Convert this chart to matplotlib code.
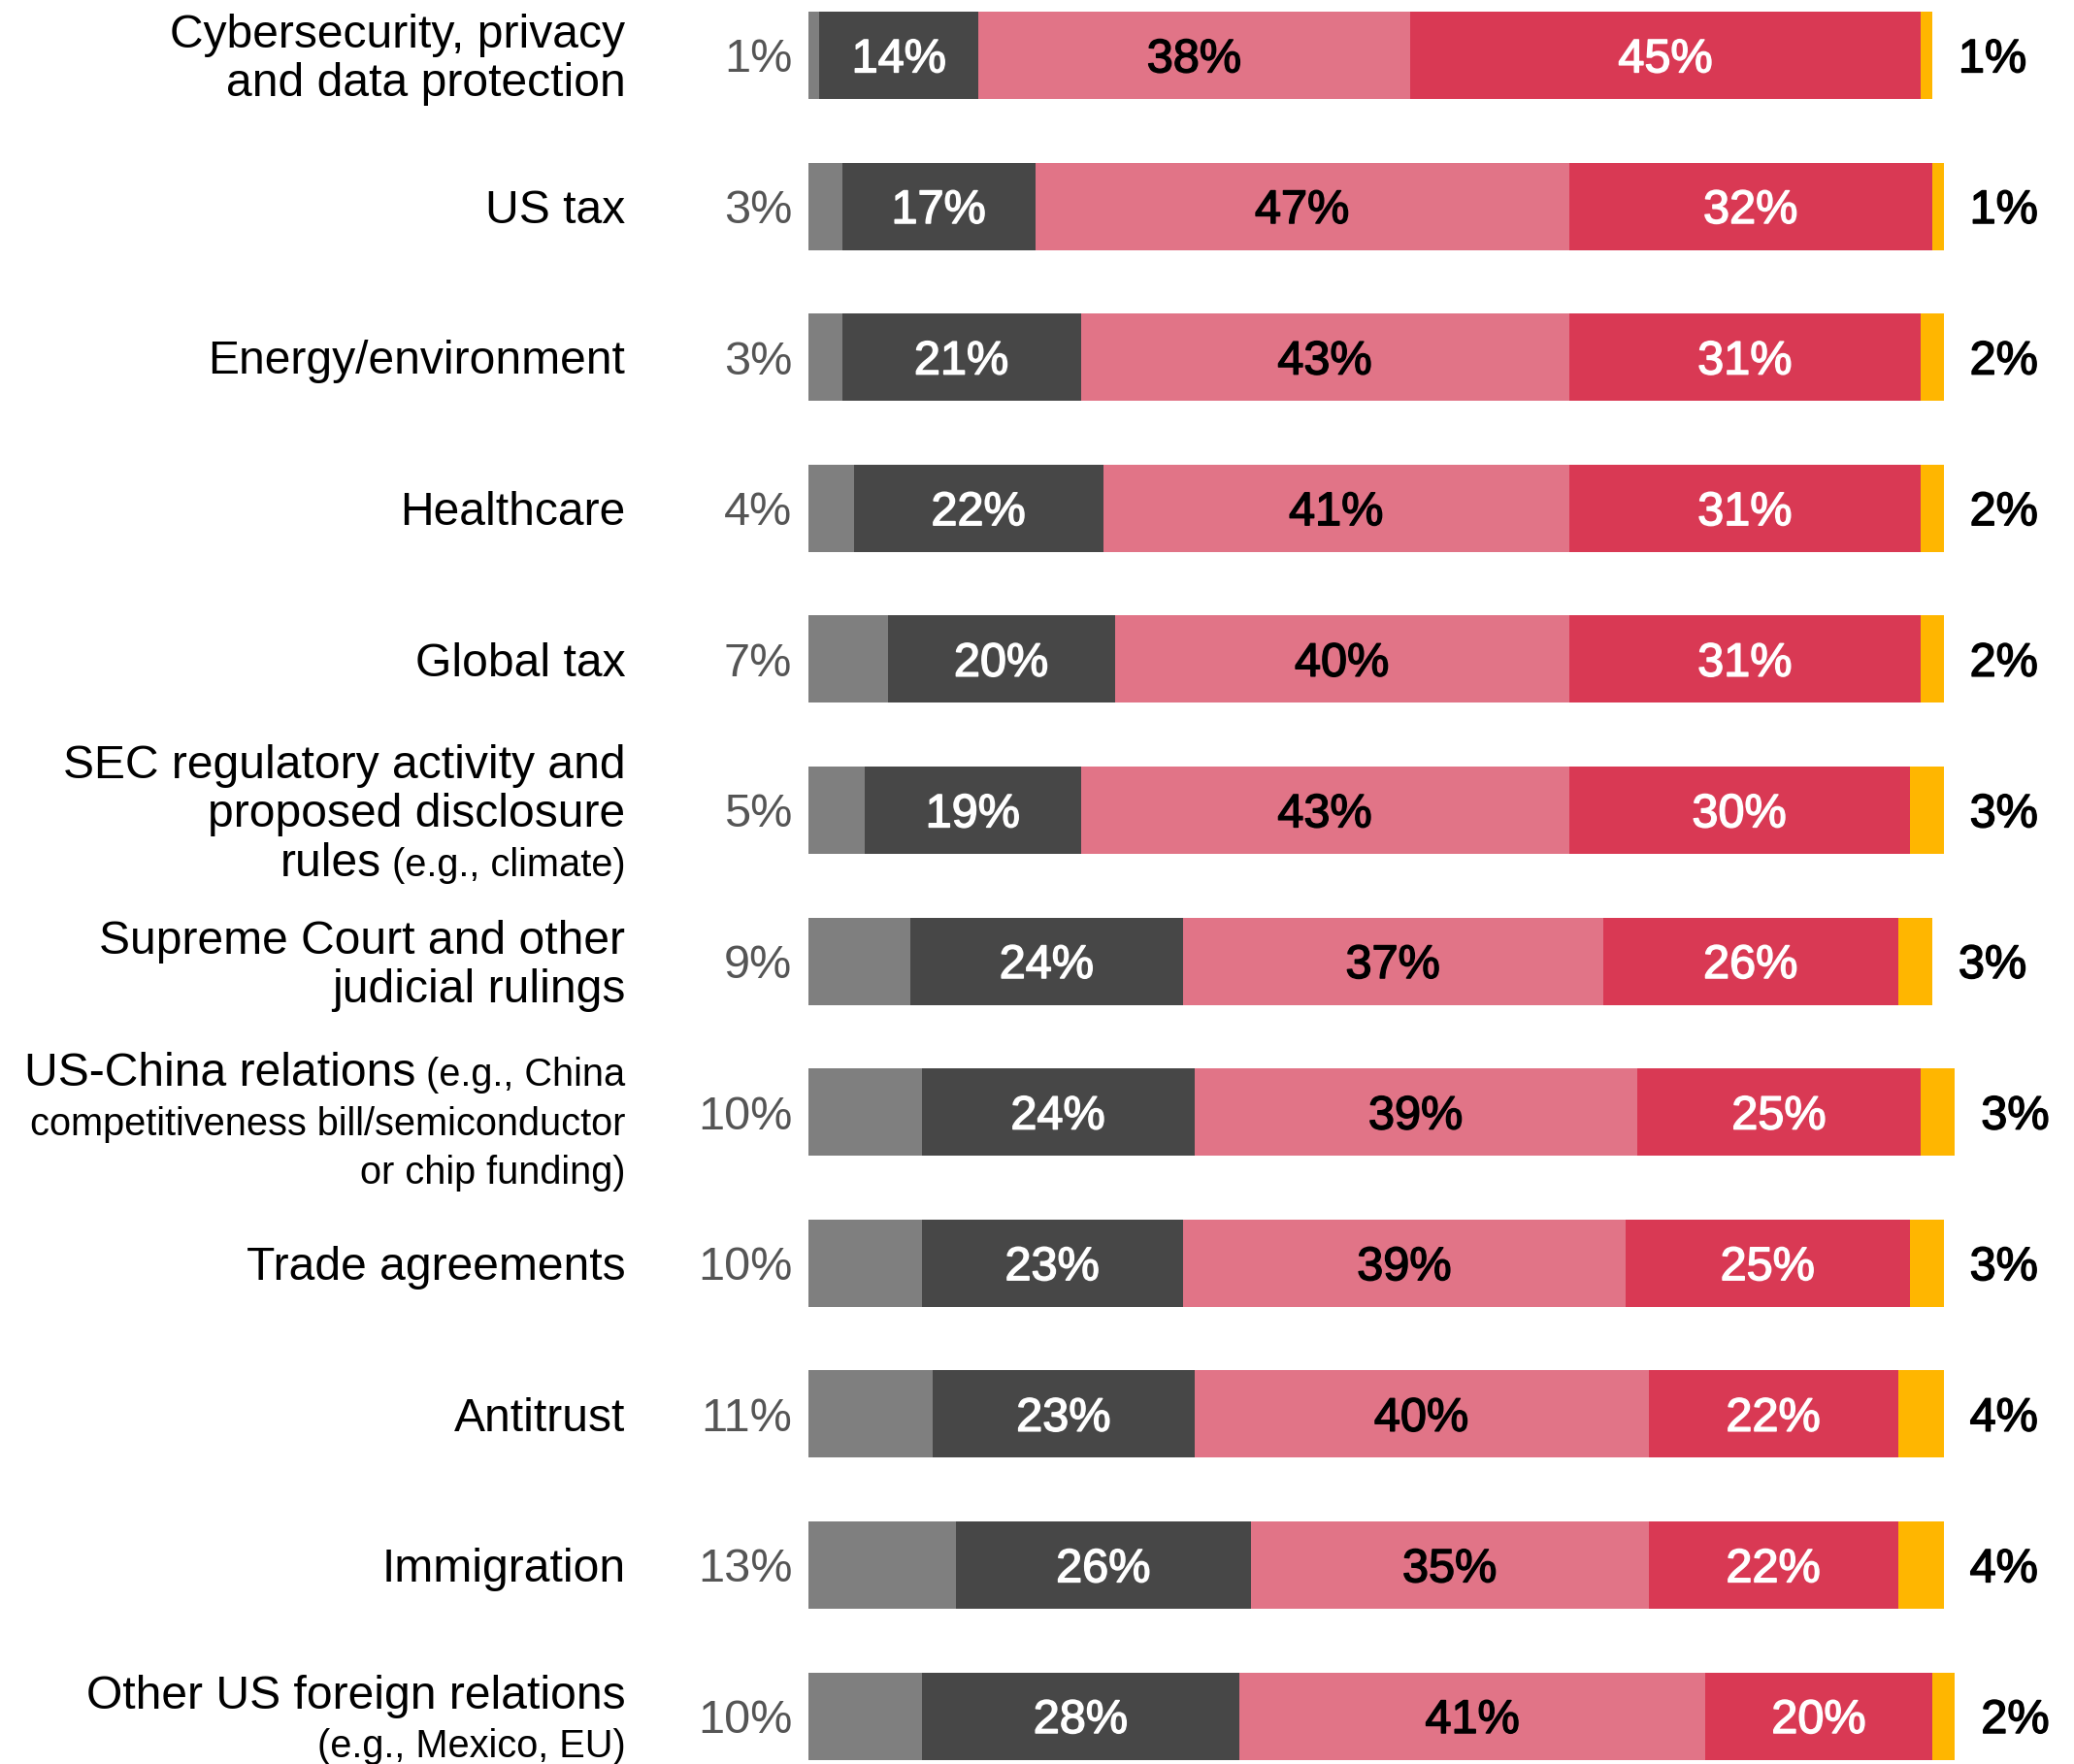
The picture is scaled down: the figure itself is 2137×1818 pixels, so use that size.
import matplotlib
matplotlib.use("Agg")
import matplotlib.pyplot as plt
import matplotlib.patheffects as pe

# ---------------- data ----------------
categories = [
    "Cybersecurity, privacy and data protection",
    "US tax",
    "Energy/environment",
    "Healthcare",
    "Global tax",
    "SEC regulatory activity and proposed disclosure rules (e.g., climate)",
    "Supreme Court and other judicial rulings",
    "US-China relations (e.g., China competitiveness bill/semiconductor or chip funding)",
    "Trade agreements",
    "Antitrust",
    "Immigration",
    "Other US foreign relations (e.g., Mexico, EU)",
]
# label lines: (main text, smaller note text)
label_lines = [
    [("Cybersecurity, privacy", ""), ("and data protection", "")],
    [("US tax", "")],
    [("Energy/environment", "")],
    [("Healthcare", "")],
    [("Global tax", "")],
    [("SEC regulatory activity and", ""), ("proposed disclosure", ""), ("rules", " (e.g., climate)")],
    [("Supreme Court and other", ""), ("judicial rulings", "")],
    [("US-China relations", " (e.g., China"), ("", "competitiveness bill/semiconductor"), ("", "or chip funding)")],
    [("Trade agreements", "")],
    [("Antitrust", "")],
    [("Immigration", "")],
    [("Other US foreign relations", ""), ("", "(e.g., Mexico, EU)")],
]
seg1 = [1, 3, 3, 4, 7, 5, 9, 10, 10, 11, 13, 10]      # light grey
seg2 = [14, 17, 21, 22, 20, 19, 24, 24, 23, 23, 26, 28]  # dark grey
seg3 = [38, 47, 43, 41, 40, 43, 37, 39, 39, 40, 35, 41]  # pink
seg4 = [45, 32, 31, 31, 31, 30, 26, 25, 25, 22, 22, 20]  # red
seg5 = [1, 1, 2, 2, 2, 3, 3, 3, 3, 4, 4, 2]            # yellow

colors = ["#7f7f7f", "#474747", "#e17487", "#d93954", "#ffb600"]
segments = [seg1, seg2, seg3, seg4, seg5]

FONT = "Liberation Sans"
BIG = 34.6
SMALL = 28.6
NUM = 35

W, H = 2137, 1818
fig = plt.figure(figsize=(W / 100, H / 100), dpi=100)
ax = fig.add_axes([0, 0, 1, 1])
ax.axis("off")

px_per_pct = 11.70
x0_px = 832.7
row_px = 155.6
row0_px = 57.0
ax.set_xlim(-x0_px / px_per_pct, (W - x0_px) / px_per_pct)
ax.set_ylim((H - row0_px) / row_px, -row0_px / row_px)

n = len(categories)
ys = list(range(n))
bar_h = 90 / row_px

left = [0.0] * n
for vals, col in zip(segments, colors):
    ax.barh(ys, vals, left=left, height=bar_h, color=col, linewidth=0)
    left = [l + v for l, v in zip(left, vals)]


def base_off(size_pt):
    # offset (data rows) from visual center to baseline
    return 0.358 * size_pt * 100 / 72 / row_px


def medium(col):
    return [pe.withStroke(linewidth=1.1, foreground=col)]


# value labels
for i in range(n):
    start = seg1[i]
    for vals, tc in ((seg2, "white"), (seg3, "black"), (seg4, "white")):
        v = vals[i]
        ax.text(start + v / 2, i + base_off(NUM), f"{v}%", ha="center", va="baseline",
                color=tc, fontsize=NUM, family=FONT, path_effects=medium(tc))
        start += v
    # left label
    ax.text(-1.4, i + base_off(NUM), f"{seg1[i]}%", ha="right", va="baseline",
            color="#555555", fontsize=NUM, family=FONT)
    # right label
    ax.text(left[i] + 2.3, i + base_off(NUM), f"{seg5[i]}%", ha="left", va="baseline",
            color="black", fontsize=NUM, family=FONT, path_effects=medium("black"))

# category labels
fig.canvas.draw()
renderer = fig.canvas.get_renderer()
lab_x = -16.1
line_sp = 0.325
center_shift = {7: 0.04}
for i, lines in enumerate(label_lines):
    k = len(lines)
    for j, (main, note) in enumerate(lines):
        yc = i + (j - (k - 1) / 2) * line_sp + center_shift.get(i, 0)
        yb = yc + base_off(BIG)
        x = lab_x
        if note:
            t = ax.text(x, yb, note, ha="right", va="baseline", color="black",
                        fontsize=SMALL, family=FONT)
            bb = t.get_window_extent(renderer)
            x = x - bb.width / px_per_pct
        if main:
            ax.text(x, yb, main, ha="right", va="baseline", color="black",
                    fontsize=BIG, family=FONT)

fig.savefig("out.png", dpi=100, facecolor="white")
